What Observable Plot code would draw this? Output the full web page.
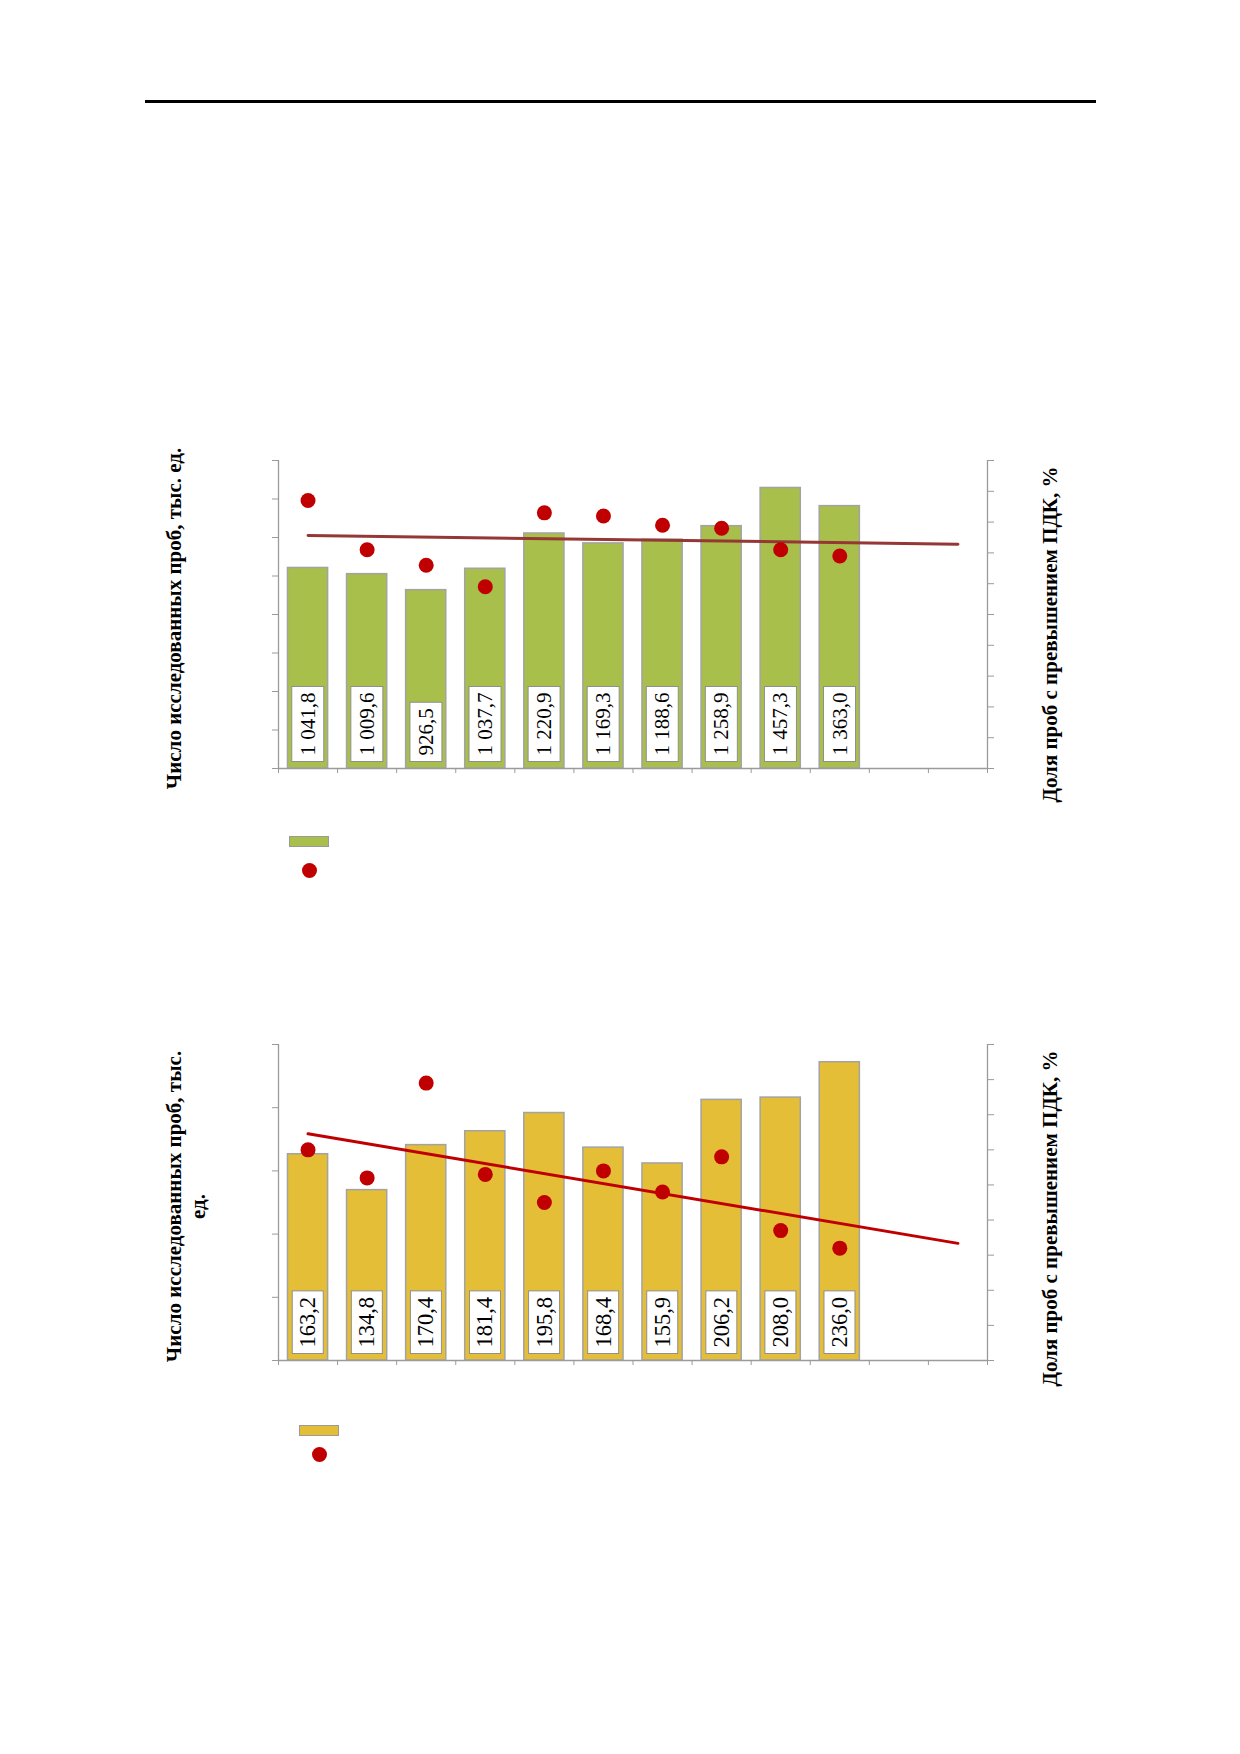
<!DOCTYPE html>
<html>
<head>
<meta charset="utf-8">
<script src="https://cdn.jsdelivr.net/npm/d3@7"></script>
<script src="https://cdn.jsdelivr.net/npm/@observablehq/plot@0.6"></script>
<style>
  html, body { margin: 0; padding: 0; background: #fff; }
  #page { position: relative; width: 1240px; height: 1754px; overflow: hidden;
          font-family: "Liberation Serif", "Times New Roman", serif; }
  #page svg { position: absolute; left: 0; overflow: visible; }
  .rule { position: absolute; left: 145px; top: 100px; width: 951px; height: 3px; background: #000; }
  .swatch { position: absolute; box-sizing: border-box; border: 1px solid #9a9a9a; }
  .ldot { position: absolute; width: 15px; height: 15px; border-radius: 50%; background: #C00000; }
</style>
</head>
<body>
<div id="page"><div class="rule"></div></div>
<script>
// ---- data ----
const periods = [1, 2, 3, 4, 5, 6, 7, 8, 9, 10];
const chemSamples = [1041.8, 1009.6, 926.5, 1037.7, 1220.9, 1169.3, 1188.6, 1258.9, 1457.3, 1363.0];
const chemExceed  = [8.7, 7.1, 6.6, 5.9, 8.3, 8.2, 7.9, 7.8, 7.1, 6.9];
const microSamples = [163.2, 134.8, 170.4, 181.4, 195.8, 168.4, 155.9, 206.2, 208.0, 236.0];
const microExceed  = [6.0, 5.2, 7.9, 5.3, 4.5, 5.4, 4.8, 5.8, 3.7, 3.2];
const slotCount = 12; // axis extended two periods for the trend forecast
const chemLeftTicks = [0, 200, 400, 600, 800, 1000, 1200, 1400, 1600];
const chemRightTicks = [0, 1, 2, 3, 4, 5, 6, 7, 8, 9, 10];
const microLeftTicks = [0, 50, 100, 150, 200, 250];
const microRightTicks = [0, 1, 2, 3, 4, 5, 6, 7, 8, 9];
const leftTitleChem = "Число исследованных проб, тыс. ед.";
const leftTitleMicro = "Число исследованных проб, тыс.\nед.";
const rightTitle = "Доля проб с превышением ПДК, %";

const fmt = d3.formatLocale({decimal: ",", thousands: " ", grouping: [3], currency: ["", ""]}).format(",.1f");
const axisColor = "#9a9a9a";
const FONT = "Liberation Serif, Times New Roman, serif";

function trendEnds(xs, ys, x0, x1) {
  const mx = d3.mean(xs), my = d3.mean(ys);
  const b = d3.sum(xs, (x, i) => (x - mx) * (ys[i] - my)) / d3.sum(xs, x => (x - mx) ** 2);
  const a = my - b * mx;
  return [x0, x1].map(x => ({x, y: a + b * x}));
}

const page = document.getElementById("page");

function makeChart(cfg) {
  const leftMax = d3.max(cfg.leftTicks), rightMax = d3.max(cfg.rightTicks);
  const k = leftMax / rightMax;
  const rows = periods.map((p, i) => ({period: p, samples: cfg.samples[i], exceed: cfg.exceed[i]}));
  const trend = trendEnds(periods, cfg.exceed, 1, slotCount).map(d => ({x: d.x, y: d.y * k}));
  const half = 0.34;
  const svg = Plot.plot({
    width: 1240,
    height: cfg.height,
    marginLeft: 278,
    marginRight: 253,
    marginTop: cfg.marginTop,
    marginBottom: cfg.height - cfg.marginTop - cfg.frameH,
    style: {fontFamily: FONT, background: "transparent", color: "#000"},
    x: {domain: [0.5, slotCount + 0.5], label: null},
    y: {domain: [0, leftMax], label: null},
    marks: [
      Plot.rectY(rows, {x1: d => d.period - half, x2: d => d.period + half, y1: 0, y2: "samples",
        fill: cfg.barColor, stroke: "#a3a3a3", strokeWidth: 1.5}),
      Plot.ruleY([0], {stroke: axisColor, strokeWidth: 1.3}),
      Plot.ruleX([0.5, slotCount + 0.5], {y1: 0, y2: leftMax, stroke: axisColor, strokeWidth: 1.3}),
      Plot.axisY(cfg.leftTicks, {anchor: "left", tickSize: 6, tickFormat: () => "", stroke: axisColor, label: null}),
      Plot.axisY(cfg.rightTicks.map(v => v * k), {anchor: "right", tickSize: 6, tickFormat: () => "", stroke: axisColor, label: null}),
      Plot.axisX(d3.range(0.5, slotCount + 0.51, 1), {tickSize: 5, tickFormat: () => "", stroke: axisColor, label: null}),
      Plot.text(rows, {x: "period", y: 0, text: d => fmt(d.samples), rotate: -90, textAnchor: "start",
        lineAnchor: "middle", dy: -13, fontSize: cfg.labelSize, fill: "#000"}),
      Plot.line(trend, {x: "x", y: "y", stroke: cfg.trendColor, strokeWidth: 3}),
      Plot.dot(rows, {x: "period", y: d => d.exceed * k, r: 7.5, fill: "#C00000", stroke: "none"}),
      Plot.text([cfg.leftTitle], {frameAnchor: "left", textAnchor: "middle", lineAnchor: "middle",
        dx: cfg.leftTitleDx, dy: cfg.leftTitleDy, rotate: -90,
        fontWeight: "bold", fontSize: 21, lineHeight: 1.15, fill: "#000"}),
      Plot.text([rightTitle], {frameAnchor: "right", textAnchor: "middle", lineAnchor: "middle",
        dx: 63, dy: cfg.rightTitleDy, rotate: -90,
        fontWeight: "bold", fontSize: 21, fill: "#000"})
    ]
  });
  svg.style.top = cfg.top + "px";
  page.appendChild(svg);
  // white boxes behind value labels
  const labels = new Set(rows.map(d => fmt(d.samples)));
  svg.querySelectorAll("text").forEach(t => {
    if (!labels.has(t.textContent)) return;
    const bb = t.getBBox();
    const r = document.createElementNS("http://www.w3.org/2000/svg", "rect");
    r.setAttribute("x", bb.x - 6);
    r.setAttribute("y", bb.y - cfg.boxPad);
    r.setAttribute("width", bb.width + 12);
    r.setAttribute("height", bb.height + 2 * cfg.boxPad);
    r.setAttribute("fill", "#fff");
    r.setAttribute("stroke", "#8f8f8f");
    r.setAttribute("stroke-width", "1");
    const tr = t.getAttribute("transform");
    if (tr) r.setAttribute("transform", tr);
    t.parentNode.insertBefore(r, t);
  });
  // legend (no text in the original)
  const sw = document.createElement("div");
  sw.className = "swatch";
  Object.assign(sw.style, {left: cfg.legendX + "px", top: cfg.legendY + "px", width: "40px", height: "11px", background: cfg.barColor});
  page.appendChild(sw);
  const dt = document.createElement("div");
  dt.className = "ldot";
  Object.assign(dt.style, {left: (cfg.legendX + 13) + "px", top: (cfg.legendY + cfg.dotOffset) + "px"});
  page.appendChild(dt);
}

makeChart({
  samples: chemSamples, exceed: chemExceed, leftTicks: chemLeftTicks, rightTicks: chemRightTicks,
  barColor: "#A8BF4B", trendColor: "#953735", leftTitle: leftTitleChem,
  top: 400, height: 420, marginTop: 60, frameH: 308, labelSize: 21, boxPad: 4,
  leftTitleDx: -105, leftTitleDy: 4, rightTitleDy: 20,
  legendX: 289, legendY: 836, dotOffset: 27
});

makeChart({
  samples: microSamples, exceed: microExceed, leftTicks: microLeftTicks, rightTicks: microRightTicks,
  barColor: "#E3BE36", trendColor: "#C00000", leftTitle: leftTitleMicro,
  top: 980, height: 430, marginTop: 64, frameH: 316, labelSize: 22.5, boxPad: 3,
  leftTitleDx: -93, leftTitleDy: 4, rightTitleDy: 16,
  legendX: 299, legendY: 1425, dotOffset: 22
});
</script>
</body>
</html>
